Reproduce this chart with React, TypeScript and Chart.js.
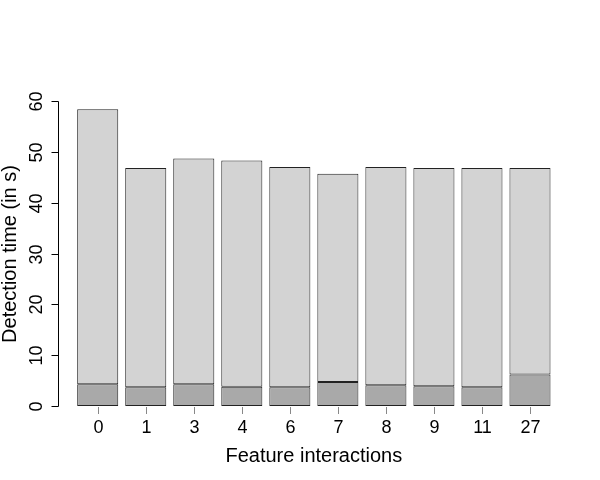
import React, { useEffect, useRef } from "react";
import { Chart, registerables } from "chart.js";

Chart.register(...registerables);

const categories = ["0", "1", "3", "4", "6", "7", "8", "9", "11", "27"];
const lowerValues = [4.3, 3.7, 4.3, 3.8, 3.7, 4.7, 4.1, 3.9, 3.7, 6.2];
const upperValues = [54.1, 43.1, 44.4, 44.5, 43.3, 41.0, 42.9, 42.9, 43.1, 40.6];
const yTicks = [0, 10, 20, 30, 40, 50, 60];
const xTitle = "Feature interactions";
const yTitle = "Detection time (in s)";

const FONT = "'Liberation Sans', Arial, Helvetica, sans-serif";

const axesPlugin = {
  id: "rAxes",
  afterDraw(chart: any) {
    const ctx = chart.ctx;
    const x = chart.scales.x;
    const y = chart.scales.y;
    const area = chart.chartArea;
    ctx.save();
    // Y axis
    const axisX = 58.5;
    const y0 = Math.round(y.getPixelForValue(yTicks[0])) + 0.5;
    const y1 = Math.round(y.getPixelForValue(yTicks[yTicks.length - 1])) + 0.5;
    ctx.strokeStyle = "#000";
    ctx.lineWidth = 1;
    ctx.beginPath();
    ctx.moveTo(axisX, y0);
    ctx.lineTo(axisX, y1);
    ctx.stroke();
    ctx.fillStyle = "#000";
    ctx.font = `18px ${FONT}`;
    ctx.textAlign = "center";
    ctx.textBaseline = "middle";
    yTicks.forEach((t) => {
      const py = Math.round(y.getPixelForValue(t)) + 0.5;
      ctx.beginPath();
      ctx.moveTo(axisX, py);
      ctx.lineTo(axisX - 7, py);
      ctx.stroke();
      ctx.save();
      ctx.translate(37, py);
      ctx.rotate(-Math.PI / 2);
      ctx.fillText(String(t), 0, 0);
      ctx.restore();
    });
    // X ticks
    ctx.strokeStyle = "#888";
    categories.forEach((c, i) => {
      const px = Math.round(x.getPixelForValue(i)) + 0.5;
      ctx.beginPath();
      ctx.moveTo(px, area.bottom + 1);
      ctx.lineTo(px, area.bottom + 8);
      ctx.stroke();
      ctx.fillText(c, px, 428);
    });
    // Titles
    ctx.font = `20px ${FONT}`;
    ctx.fillText(xTitle, (area.left + area.right) / 2, 456);
    ctx.save();
    ctx.translate(10, (y0 + y1) / 2);
    ctx.rotate(-Math.PI / 2);
    ctx.fillText(yTitle, 0, 0);
    ctx.restore();
    ctx.restore();
  },
};

export default function App() {
  const ref = useRef<HTMLCanvasElement>(null);
  useEffect(() => {
    document.body.style.margin = "0";
    const chart = new Chart(ref.current!, {
      type: "bar",
      data: {
        labels: categories,
        datasets: [
          {
            label: "lower",
            data: lowerValues,
            backgroundColor: "#a9a9a9",
            borderColor: "#222",
            borderWidth: 1,
            borderSkipped: false,
            barPercentage: 0.855,
            categoryPercentage: 1,
          },
          {
            label: "upper",
            data: upperValues,
            backgroundColor: "#d3d3d3",
            borderColor: "#222",
            borderWidth: 1,
            borderSkipped: false,
            barPercentage: 0.855,
            categoryPercentage: 1,
          },
        ],
      },
      options: {
        responsive: false,
        animation: false,
        layout: { padding: { left: 73.7, right: 46, top: 101, bottom: 74 } },
        plugins: { legend: { display: false }, tooltip: { enabled: false } },
        scales: {
          x: { display: false, stacked: true },
          y: { display: false, stacked: true, min: 0, max: 60 },
        },
      },
      plugins: [axesPlugin],
    });
    return () => chart.destroy();
  }, []);
  return (
    <div style={{ position: "absolute", left: 0, top: 0, width: 600, height: 480, background: "#fff" }}>
      <canvas ref={ref} width={600} height={480} />
    </div>
  );
}
